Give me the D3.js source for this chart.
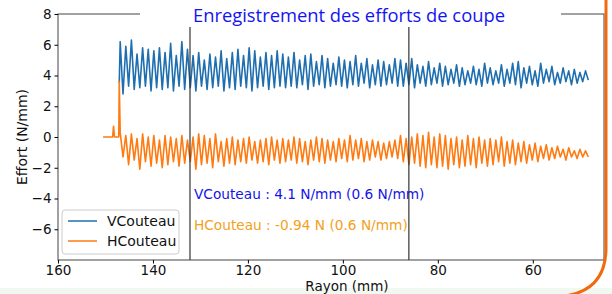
<!DOCTYPE html>
<html>
<head>
<meta charset="utf-8">
<script src="https://cdn.jsdelivr.net/npm/d3@7"></script>
<style>
  body { margin: 0; background: #fff; }
  svg { display: block; font-family: "DejaVu Sans", sans-serif; }
</style>
</head>
<body>
<div id="chart"></div>
<script>
const width = 612;
const height = 294;
const margin = { left: 58, right: 8, top: 14, bottom: 34 };

// one value per half cycle (radius goes from 147 down to 48 mm)
const seriesNames = ["VCouteau", "HCouteau"];
const recordStart = 146.9;
const recordEnd = 48.3;

const vHighs = [
  6.2, 5.9, 6.3, 5.4, 5.8, 5.7, 5.6, 5.8, 5.5, 6.1, 5.3, 6.2,
  5.7, 5.3, 5.5, 5.0, 5.4, 5.2, 5.6, 5.1, 5.5, 5.7, 5.3, 5.8, 5.6, 5.2, 5.5, 5.3, 5.6, 5.4,
  5.2, 5.5, 5.0, 5.3, 5.4, 4.9, 5.3, 5.1, 4.8, 5.2, 5.0, 4.9, 5.3, 4.8, 5.1, 4.7, 5.0, 4.9, 4.7, 5.1,
  5.0, 4.8, 5.1, 4.7, 4.6, 4.9, 4.5, 4.8, 4.6, 4.4, 4.7, 4.5, 4.3, 4.6, 4.4, 4.8,
  4.5, 4.3, 4.7, 4.4, 4.8, 4.9, 4.5, 4.6, 4.3, 4.8, 4.4, 4.6, 4.2, 4.5, 4.3, 4.4, 4.2, 4.3
];
const vLows = [
  2.8, 3.3, 3.1, 3.2, 3.3, 3.0, 3.2, 3.1, 3.2, 3.0, 3.3, 3.1,
  3.2, 3.0, 3.3, 3.1, 3.2, 3.3, 3.0, 3.2, 3.1, 3.3, 3.2, 3.0, 3.2, 3.3, 3.1, 3.2, 3.3, 3.2,
  3.3, 3.2, 3.4, 3.1, 3.3, 3.4, 3.2, 3.3, 3.4, 3.3, 3.2, 3.4, 3.3, 3.5, 3.2, 3.4, 3.3, 3.4, 3.5, 3.3,
  3.3, 3.4, 3.2, 3.5, 3.3, 3.4, 3.5, 3.3, 3.4, 3.5, 3.3, 3.4, 3.5, 3.4, 3.3, 3.5,
  3.4, 3.5, 3.3, 3.5, 3.4, 3.2, 3.5, 3.4, 3.3, 3.5, 3.6, 3.4, 3.5, 3.6, 3.4, 3.5, 3.6, 3.7
];
const hHighs = [
  0.3, 0.1, 0.2, -0.1, 0.2, 0.0, 0.1, -0.2, 0.1, 0.0, -0.1, 0.1,
  -0.2, 0.0, 0.2, 0.1, -0.1, 0.2, -0.3, -0.1, 0.0, -0.2, -0.1, 0.0, -0.3, -0.2, -0.1, 0.0, -0.2, -0.1,
  -0.2, 0.0, -0.1, -0.3, -0.2, 0.0, -0.1, -0.2, -0.3, -0.1, -0.2, 0.1, -0.2, -0.1, -0.3, -0.2, -0.3, -0.4, -0.3, -0.2,
  0.1, -0.1, 0.0, 0.2, 0.1, 0.3, 0.0, 0.2, 0.1, -0.1, 0.0, -0.2, 0.1, -0.1, 0.0, -0.2,
  -0.1, -0.2, 0.0, -0.3, -0.2, -0.4, -0.3, -0.5, -0.4, -0.6, -0.5, -0.7, -0.6, -0.8, -0.7, -0.9, -0.8, -0.9
];
const hLows = [
  -1.3, -1.8, -1.5, -2.1, -1.6, -1.9, -1.7, -2.0, -1.8, -1.6, -1.9, -1.7,
  -1.6, -2.1, -1.8, -1.7, -2.0, -1.6, -1.9, -1.7, -1.8, -1.6, -1.7, -1.5, -1.7, -1.6, -1.8, -1.5, -1.7, -1.6,
  -1.5, -1.7, -1.6, -1.8, -1.5, -1.6, -1.7, -1.5, -1.6, -1.4, -1.6, -1.5, -1.4, -1.6, -1.5, -1.3, -1.5, -1.4, -1.3, -1.4,
  -1.6, -1.8, -1.7, -1.9, -2.0, -1.8, -2.0, -1.9, -2.1, -1.8, -2.0, -1.9, -1.8, -2.0, -1.7, -1.9,
  -1.8, -1.6, -1.9, -1.7, -1.8, -1.6, -1.7, -1.5, -1.6, -1.4, -1.5, -1.4, -1.3, -1.5, -1.3, -1.4, -1.3, -1.3
];

// before the tool enters the part
const vLeadRayon = [147.1];
const vLeadValue = [3.5];
const hLeadRayon = [150.5, 148.5, 148.3, 148.1, 147.2, 147.1];
const hLeadValue = [0, 0, 0.7, 0, 0, 3.6];

const markers = [132.2, 86.1];
const xTicks = [160, 140, 120, 100, 80, 60];
const yTicks = [-6, -4, -2, 0, 2, 4, 6, 8];

const title = "Enregistrement des efforts de coupe";
const notes = [
  { text: "VCouteau : 4.1 N/mm (0.6 N/mm)", color: "#1414e6" },
  { text: "HCouteau : -0.94 N (0.6 N/mm)", color: "#f4a020" },
];
const colors = ["#1f6fb0", "#ff7a10"];

const buildSeries = (leadR, leadV, highs, lows) => {
  const values = [];
  highs.forEach((h, i) => {
    values.push(h);
    values.push(lows[i]);
  });
  const idx = d3.scaleLinear().domain([0, values.length - 1]).range([recordStart, recordEnd]);
  const pts = leadR.map((r, i) => [r, leadV[i]]);
  values.forEach((v, i) => pts.push([idx(i), v]));
  return pts;
};

const svg = d3
  .select("#chart")
  .append("svg")
  .attr("width", width)
  .attr("height", height);

svg.append("rect").attr("x", 0).attr("y", 288).attr("width", width).attr("height", 6).attr("fill", "#f1f8f1");

const x = d3.scaleLinear().domain([160, 45]).range([margin.left, width - margin.right]);
const y = d3.scaleLinear().domain([-8, 8]).range([height - margin.bottom, margin.top]);

const line = d3
  .line()
  .x((d) => x(d[0]))
  .y((d) => y(d[1]));

const data = [
  buildSeries(vLeadRayon, vLeadValue, vHighs, vLows),
  buildSeries(hLeadRayon, hLeadValue, hHighs, hLows),
];

const plot = svg.append("g");

plot
  .selectAll(".serie")
  .data(data)
  .join("path")
  .attr("class", "serie")
  .attr("fill", "none")
  .attr("stroke", (d, i) => colors[i])
  .attr("stroke-width", 1.6)
  .attr("stroke-linejoin", "round")
  .attr("d", line);

plot
  .selectAll(".marker")
  .data(markers)
  .join("line")
  .attr("class", "marker")
  .attr("x1", (d) => x(d))
  .attr("x2", (d) => x(d))
  .attr("y1", y(8))
  .attr("y2", y(-8))
  .attr("stroke", "#333")
  .attr("stroke-width", 1.2);

// frame
const x0 = margin.left, x1 = width - margin.right;
const y0 = margin.top, y1 = height - margin.bottom;
svg.append("rect")
  .attr("x", x0).attr("y", y0)
  .attr("width", x1 - x0).attr("height", y1 - y0)
  .attr("fill", "none").attr("stroke", "#444").attr("stroke-width", 1);

const xAxis = d3.axisBottom(x).tickValues(xTicks).tickSize(3.5).tickPadding(2).tickSizeOuter(0);
const yAxis = d3.axisLeft(y).tickValues(yTicks).tickFormat(d3.format("")).tickSize(3.5).tickPadding(3).tickSizeOuter(0);

svg.append("g")
  .attr("transform", `translate(0, ${y1})`)
  .call(xAxis)
  .call((g) => g.select(".domain").remove())
  .call((g) => g.selectAll("text").attr("font-size", 13.5).attr("fill", "#111").attr("font-family", "DejaVu Sans"));

svg.append("g")
  .attr("transform", `translate(${x0}, 0)`)
  .call(yAxis)
  .call((g) => g.select(".domain").remove())
  .call((g) => g.selectAll("text").attr("font-size", 13.5).attr("fill", "#111").attr("font-family", "DejaVu Sans"));

svg.append("text")
  .attr("x", 347)
  .attr("y", 291)
  .attr("text-anchor", "middle")
  .attr("font-size", 13.5)
  .attr("fill", "#111")
  .text("Rayon (mm)");

svg.append("text")
  .attr("transform", `translate(27, ${(y0 + y1) / 2}) rotate(-90)`)
  .attr("text-anchor", "middle")
  .attr("font-size", 14)
  .attr("fill", "#111")
  .text("Effort (N/mm)");

// annotations
svg.selectAll(".note")
  .data(notes)
  .join("text")
  .attr("class", "note")
  .attr("x", 194)
  .attr("y", (d, i) => 199 + i * 31)
  .attr("font-size", 13.7)
  .attr("fill", (d) => d.color)
  .text((d) => d.text);

// legend
const legend = svg.append("g").attr("transform", "translate(62, 210)");
legend.append("rect")
  .attr("width", 117).attr("height", 44).attr("rx", 3)
  .attr("fill", "#fff").attr("fill-opacity", 0.8)
  .attr("stroke", "#ccc");
seriesNames.forEach((name, i) => {
  legend.append("line")
    .attr("x1", 6).attr("x2", 35)
    .attr("y1", 11 + i * 20).attr("y2", 11 + i * 20)
    .attr("stroke", colors[i]).attr("stroke-width", 1.5);
  legend.append("text")
    .attr("x", 45).attr("y", 16 + i * 20)
    .attr("font-size", 14).attr("fill", "#111")
    .text(name);
});

// slide title box over the plot
svg.append("rect").attr("x", 140).attr("y", 0).attr("width", 421).attr("height", 27).attr("fill", "#fff");
svg.append("text")
  .attr("x", 349)
  .attr("y", 22)
  .attr("text-anchor", "middle")
  .attr("font-family", "Open Sans, sans-serif")
  .attr("font-size", 18)
  .attr("textLength", 312)
  .attr("lengthAdjust", "spacingAndGlyphs")
  .attr("fill", "#1414f0")
  .text(title);

// slide border, bottom right corner
svg.append("path")
  .attr("d", "M606,0 L606,248 Q606,290 565,296")
  .attr("fill", "none")
  .attr("stroke", "#f26a10")
  .attr("stroke-width", 3);
</script>
</body>
</html>
